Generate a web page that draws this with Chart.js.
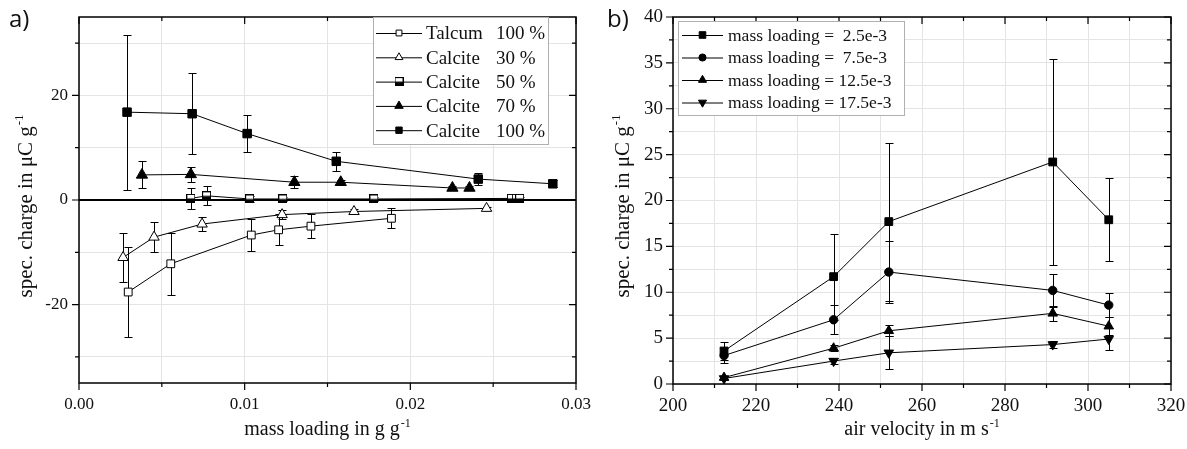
<!DOCTYPE html>
<html><head><meta charset="utf-8">
<script src="https://cdn.jsdelivr.net/npm/chart.js@4/dist/chart.umd.min.js"></script>
<style>
body{margin:0;background:#fff;width:1187px;height:449px;overflow:hidden;position:relative;font-family:"Liberation Serif",serif}
canvas{position:absolute;top:0}
#c1{left:0}
#c2{left:590px}
</style></head><body>
<canvas id="c1" width="600" height="449"></canvas>
<canvas id="c2" width="597" height="449"></canvas>
<script>
// ---------- Panel a) data : spec. charge vs mass loading ----------
const talcum100X = [0.00297, 0.00554, 0.0104, 0.01205, 0.0140, 0.01886];
const talcum100Y = [-17.6, -12.2, -6.7, -5.7, -5.0, -3.5];
const talcum100E = [8.6, 5.9, 3.0, 3.0, 2.3, 1.9];

const calcite30X = [0.00266, 0.00453, 0.00743, 0.01226, 0.0166, 0.0246];
const calcite30Y = [-11.0, -7.1, -4.6, -2.8, -2.2, -1.6];
const calcite30E = [4.6, 2.8, 1.4, 0.9, 0.5, 0.3];

const calcite50X = [0.00675, 0.0077, 0.0103, 0.0123, 0.0178, 0.0261, 0.0264, 0.0266];
const calcite50Y = [0.3, 0.8, 0.2, 0.2, 0.2, 0.3, 0.3, 0.3];
const calcite50E = [2.0, 1.8, 0.5, 0.4, 0.3, 0.2, 0.2, 0.2];

const calcite70X = [0.0038, 0.00675, 0.0130, 0.0158, 0.02254, 0.02357];
const calcite70Y = [4.8, 4.9, 3.4, 3.4, 2.3, 2.3];
const calcite70E = [2.6, 1.5, 1.2, 0.4, 0.3, 0.3];

const calcite100X = [0.0029, 0.00683, 0.01015, 0.01553, 0.0241, 0.0286];
const calcite100Y = [16.8, 16.5, 12.7, 7.4, 4.0, 3.1];
const calcite100E = [14.8, 7.7, 3.5, 1.8, 1.1, 0.7];

const materialNames = ['Talcum', 'Calcite', 'Calcite', 'Calcite', 'Calcite'];
const materialShares = ['100 %', '30 %', '50 %', '70 %', '100 %'];

const xLabelTicksA = [0, 0.01, 0.02, 0.03];
const xGridA = [0, 0.005, 0.01, 0.015, 0.02, 0.025, 0.03];
const yLabelTicksA = [-20, 0, 20];
const yGridA = [-30, -20, -10, 0, 10, 20, 30];

// ---------- Panel b) data : spec. charge vs air velocity ----------
const airVelocity = [212.3, 238.7, 252.0, 291.5, 305.0];
const charge25 = [3.6, 11.7, 17.7, 24.2, 17.9];
const error25 = [1.0, 4.7, 8.6, 11.2, 4.5];
const charge75 = [3.1, 7.0, 12.2, 10.2, 8.6];
const error75 = [0.8, 1.6, 3.4, 1.8, 1.3];
const charge125 = [0.7, 3.9, 5.8, 7.7, 6.3];
const error125 = [0.2, 0.3, 0.6, 0.8, 1.0];
const charge175 = [0.6, 2.5, 3.4, 4.3, 4.9];
const error175 = [0.2, 0.3, 1.8, 0.4, 1.2];
const loadingLabels = ['mass loading =  2.5e-3', 'mass loading =  7.5e-3', 'mass loading = 12.5e-3', 'mass loading = 17.5e-3'];

const xLabelTicksB = [200, 220, 240, 260, 280, 300, 320];
const yLabelTicksB = [0, 5, 10, 15, 20, 25, 30, 35, 40];

// ---------- helpers ----------
const FONT = '"Liberation Serif", "Times New Roman", Times, serif';
const near = (v, arr) => arr.some(a => Math.abs(a - v) < 1e-9);

function halfSquare(size) {
  const c = document.createElement('canvas');
  c.width = size; c.height = size;
  const g = c.getContext('2d');
  g.fillStyle = '#fff'; g.fillRect(0, 0, size, size);
  g.fillStyle = '#000'; g.fillRect(0, size / 2, size, size / 2);
  g.strokeStyle = '#000'; g.lineWidth = 1; g.strokeRect(0.5, 0.5, size - 1, size - 1);
  return c;
}

function series(label, xs, ys, errs, style) {
  return Object.assign({
    label,
    data: xs.map((x, i) => ({ x, y: ys[i] })),
    errors: errs,
    showLine: true,
    borderColor: '#000',
    borderWidth: 1,
    pointBorderColor: '#000',
    pointBorderWidth: 1,
    pointRotation: 0
  }, style);
}

const errorBars = {
  id: 'errorBars',
  beforeDatasetsDraw(chart) {
    const ctx = chart.ctx, xs = chart.scales.x, ys = chart.scales.y;
    ctx.save();
    ctx.strokeStyle = '#000'; ctx.lineWidth = 1;
    chart.data.datasets.forEach(ds => {
      ds.data.forEach((p, i) => {
        const e = ds.errors[i];
        if (!e) return;
        const px = Math.round(xs.getPixelForValue(p.x)) + 0.5;
        const t = Math.round(ys.getPixelForValue(p.y + e)) + 0.5;
        const b = Math.round(ys.getPixelForValue(p.y - e)) + 0.5;
        ctx.beginPath();
        ctx.moveTo(px, t); ctx.lineTo(px, b);
        ctx.moveTo(px - 4, t); ctx.lineTo(px + 4, t);
        ctx.moveTo(px - 4, b); ctx.lineTo(px + 4, b);
        ctx.stroke();
      });
    });
    ctx.restore();
  }
};

function drawSup(ctx, main, sup, cx, cy, size) {
  const small = Math.round(size * 0.62);
  ctx.font = size + 'px ' + FONT;
  const w1 = ctx.measureText(main).width;
  ctx.font = small + 'px ' + FONT;
  const w2 = ctx.measureText(sup).width;
  const start = cx - (w1 + w2 + 1) / 2;
  ctx.textAlign = 'left'; ctx.textBaseline = 'alphabetic';
  ctx.font = size + 'px ' + FONT;
  ctx.fillText(main, start, cy);
  ctx.font = small + 'px ' + FONT;
  ctx.fillText(sup, start + w1 + 1, cy - size * 0.42);
}

function frameAndText(o) {
  return {
    id: 'frameAndText',
    afterDatasetsDraw(chart) {
      const ctx = chart.ctx, a = chart.chartArea, xs = chart.scales.x, ys = chart.scales.y;
      ctx.save();
      ctx.strokeStyle = '#000';
      ctx.lineWidth = 1.5;
      ctx.strokeRect(a.left, a.top, a.right - a.left, a.bottom - a.top);
      ctx.lineWidth = 1.2;
      ctx.beginPath();
      const tx = (v, len) => {
        const p = xs.getPixelForValue(v);
        ctx.moveTo(p, a.bottom); ctx.lineTo(p, a.bottom + len);
        ctx.moveTo(p, a.top); ctx.lineTo(p, a.top + len);
      };
      const ty = (v, len) => {
        const p = ys.getPixelForValue(v);
        ctx.moveTo(a.left, p); ctx.lineTo(a.left - len, p);
        ctx.moveTo(a.right, p); ctx.lineTo(a.right - len, p);
      };
      o.xMajor.forEach(v => tx(v, 7));
      o.xMinor.forEach(v => tx(v, 4));
      o.yMajor.forEach(v => ty(v, 7));
      o.yMinor.forEach(v => ty(v, 4));
      ctx.stroke();

      // legend
      const L = o.legend;
      ctx.fillStyle = '#fff';
      ctx.fillRect(L.x, L.y, L.w, L.h);
      ctx.strokeStyle = '#b0b0b0'; ctx.lineWidth = 1;
      ctx.strokeRect(L.x + 0.5, L.y + 0.5, L.w, L.h);
      chart.data.datasets.forEach((ds, i) => {
        const cy = L.row0 + i * L.gap;
        ctx.strokeStyle = '#000'; ctx.lineWidth = 1;
        ctx.beginPath(); ctx.moveTo(L.lx1, cy + 0.5); ctx.lineTo(L.lx2, cy + 0.5); ctx.stroke();
        ctx.fillStyle = ds.pointBackgroundColor;
        ctx.strokeStyle = '#000';
        Chart.helpers.drawPoint(ctx, {
          pointStyle: ds.pointStyle, radius: ds.pointRadius * L.scale,
          rotation: ds.pointRotation || 0, borderWidth: 1
        }, (L.lx1 + L.lx2) / 2, cy);
      });
      ctx.fillStyle = '#111';
      ctx.textAlign = 'left'; ctx.textBaseline = 'alphabetic';
      chart.data.datasets.forEach((ds, i) => {
        const cy = L.row0 + i * L.gap;
        ctx.font = L.fsize + 'px ' + FONT;
        ctx.measureText(L.col1[i]);
        ctx.fillText(L.col1[i], L.tx1, cy + L.fsize * 0.34);
        if (L.col2) ctx.fillText(L.col2[i], L.tx2, cy + L.fsize * 0.34);
      });

      // axis titles
      ctx.fillStyle = '#111';
      const cxp = (a.left + a.right) / 2;
      drawSup(ctx, o.xTitle[0], o.xTitle[1], cxp, o.xTitleY, 20);
      ctx.save();
      ctx.translate(o.yTitleX, o.yTitleCY);
      ctx.rotate(-Math.PI / 2);
      drawSup(ctx, o.yTitle[0], o.yTitle[1], 0, 0, 21);
      ctx.restore();
      ctx.restore();
    }
  };
}

function range(a, b, s) { const r = []; for (let v = a; v <= b + 1e-9; v += s) r.push(+v.toFixed(6)); return r; }
const setTicks = vals => s => { s.ticks = vals.map(v => ({ value: v })); };

// ---------- Chart b) (created first) ----------
const chartB = new Chart(document.getElementById('c2'), {
  type: 'scatter',
  data: {
    datasets: [
      series(loadingLabels[0], airVelocity, charge25, error25, { pointStyle: 'rect', pointRadius: 5.5, pointBackgroundColor: '#000' }),
      series(loadingLabels[1], airVelocity, charge75, error75, { pointStyle: 'circle', pointRadius: 4.2, pointBackgroundColor: '#000' }),
      series(loadingLabels[2], airVelocity, charge125, error125, { pointStyle: 'triangle', pointRadius: 5.5, pointBackgroundColor: '#000' }),
      series(loadingLabels[3], airVelocity, charge175, error175, { pointStyle: 'triangle', pointRadius: 5.5, pointRotation: 180, pointBackgroundColor: '#000' })
    ]
  },
  options: {
    responsive: false, animation: false, events: [],
    layout: { padding: { left: 0, right: 16, top: 17, bottom: 0 } },
    plugins: { legend: { display: false }, tooltip: { enabled: false } },
    scales: {
      x: {
        type: 'linear', min: 200, max: 320,
        afterBuildTicks: setTicks(range(200, 320, 10)),
        afterFit(s) { s.height = 65; s.paddingLeft = 0; s.paddingRight = 0; },
        ticks: { autoSkip: false, maxRotation: 0, padding: 11, color: '#111', font: { family: FONT, size: 19 },
          callback: v => near(v, xLabelTicksB) ? String(v) : '' },
        grid: { color: '#e4e4e4', lineWidth: 1, drawTicks: false }, border: { display: false }
      },
      y: {
        type: 'linear', min: 0, max: 40,
        afterBuildTicks: setTicks(range(0, 40, 2.5)),
        afterFit(s) { s.width = 83; s.paddingTop = 0; s.paddingBottom = 0; },
        ticks: { autoSkip: false, padding: 10, color: '#111', font: { family: FONT, size: 19 },
          callback: v => near(v, yLabelTicksB) ? String(v) : '' },
        grid: { color: '#e4e4e4', lineWidth: 1, drawTicks: false }, border: { display: false }
      }
    }
  },
  plugins: [errorBars, frameAndText({
    xMajor: xLabelTicksB, xMinor: range(210, 310, 20),
    yMajor: yLabelTicksB, yMinor: range(2.5, 37.5, 5),
    legend: { x: 88, y: 21, w: 226, h: 94, row0: 35, gap: 22.5, lx1: 92, lx2: 133, tx1: 138, fsize: 17.5, scale: 0.85, col1: loadingLabels },
    xTitle: ['air velocity in m s', '-1'], xTitleY: 435,
    yTitle: ['spec. charge in \u03bcC g', '-1'], yTitleX: 39, yTitleCY: 206
  })]
});

// ---------- Chart a) ----------
const ds50Marker = halfSquare(9);
const chartA = new Chart(document.getElementById('c1'), {
  type: 'scatter',
  data: {
    datasets: [
      series(materialNames[0] + ' ' + materialShares[0], talcum100X, talcum100Y, talcum100E, { pointStyle: 'rect', pointRadius: 5.5, pointBackgroundColor: '#fff' }),
      series(materialNames[1] + ' ' + materialShares[1], calcite30X, calcite30Y, calcite30E, { pointStyle: 'triangle', pointRadius: 6, pointBackgroundColor: '#fff' }),
      series(materialNames[2] + ' ' + materialShares[2], calcite50X, calcite50Y, calcite50E, { pointStyle: ds50Marker, pointRadius: 5, pointBackgroundColor: '#fff' }),
      series(materialNames[3] + ' ' + materialShares[3], calcite70X, calcite70Y, calcite70E, { pointStyle: 'triangle', pointRadius: 6.5, pointBackgroundColor: '#000' }),
      series(materialNames[4] + ' ' + materialShares[4], calcite100X, calcite100Y, calcite100E, { pointStyle: 'rect', pointRadius: 6, pointBackgroundColor: '#000' })
    ]
  },
  options: {
    responsive: false, animation: false, events: [],
    layout: { padding: { left: 0, right: 24, top: 17, bottom: 0 } },
    plugins: { legend: { display: false }, tooltip: { enabled: false } },
    scales: {
      x: {
        type: 'linear', min: 0, max: 0.03,
        afterBuildTicks: setTicks(xGridA),
        afterFit(s) { s.height = 66; s.paddingLeft = 0; s.paddingRight = 0; },
        ticks: { autoSkip: false, maxRotation: 0, padding: 11, color: '#111', font: { family: FONT, size: 17 },
          callback: v => near(v, xLabelTicksA) ? v.toFixed(2) : '' },
        grid: { color: '#e4e4e4', lineWidth: 1, drawTicks: false }, border: { display: false }
      },
      y: {
        type: 'linear', min: -35, max: 35,
        afterBuildTicks: setTicks(yGridA),
        afterFit(s) { s.width = 79; s.paddingTop = 0; s.paddingBottom = 0; },
        ticks: { autoSkip: false, padding: 11, color: '#111', font: { family: FONT, size: 17 },
          callback: v => near(v, yLabelTicksA) ? String(v) : '' },
        grid: {
          color: c => (c.tick && c.tick.value === 0) ? '#000' : '#e4e4e4',
          lineWidth: c => (c.tick && c.tick.value === 0) ? 2 : 1,
          drawTicks: false
        },
        border: { display: false }
      }
    }
  },
  plugins: [errorBars, frameAndText({
    xMajor: xLabelTicksA, xMinor: [0.005, 0.015, 0.025],
    yMajor: yLabelTicksA, yMinor: [-30, -10, 10, 30],
    legend: { x: 373, y: 17, w: 175, h: 127, row0: 33, gap: 24.3, lx1: 376, lx2: 422, tx1: 426, tx2: 496, fsize: 19, scale: 0.75, col1: materialNames, col2: materialShares },
    xTitle: ['mass loading in g g', '-1'], xTitleY: 435,
    yTitle: ['spec. charge in \u03bcC g', '-1'], yTitleX: 32, yTitleCY: 206
  })]
});
</script>
<div style="position:absolute;left:9px;top:2px;font:24px 'Open Sans',sans-serif;color:#111;line-height:32px">a)</div>
<div style="position:absolute;left:607px;top:2px;font:24px 'Open Sans',sans-serif;color:#111;line-height:32px">b)</div>
</body></html>
